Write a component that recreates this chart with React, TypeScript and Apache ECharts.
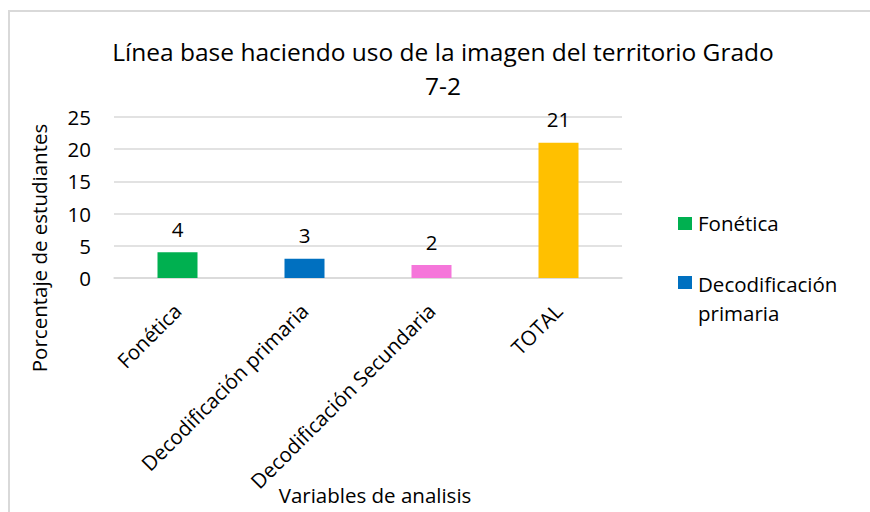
import React, { useEffect, useRef } from "react";
import * as echarts from "echarts";

const categories = ["Fonética", "Decodificación primaria", "Decodificación Secundaria", "TOTAL"];
const values = [4, 3, 2, 21];
const barColors = ["#00B050", "#0070C0", "#F576DA", "#FFC000"];
const yTicks = { min: 0, max: 25, interval: 5 };
const legendItems = ["Fonética", "Decodificación\nprimaria"];
const titleText = "Línea base haciendo uso de la imagen del territorio Grado\n7-2";
const yName = "Porcentaje de estudiantes";
const xName = "Variables de analisis";

const FONT = "Open Sans";
const FS = 20.5;

export default function App() {
  const ref = useRef<HTMLDivElement>(null);
  useEffect(() => {
    if (!ref.current) return;
    const chart = echarts.init(ref.current, undefined, { renderer: "svg" });
    chart.setOption({
      animation: false,
      backgroundColor: "#ffffff",
      textStyle: { fontFamily: FONT },
      title: {
        text: titleText,
        left: 438,
        top: 29,
        textAlign: "center",
        textStyle: { fontFamily: FONT, fontSize: 24.5, fontWeight: "normal", color: "#000", lineHeight: 34 },
      },
      grid: { left: 114, right: 248, top: 117, bottom: 234, containLabel: false },
      xAxis: {
        type: "category",
        data: categories,
        axisLine: { show: true, lineStyle: { color: "#D9D9D9", width: 1.5 } },
        axisTick: { show: false },
        axisLabel: { rotate: 45, margin: 29, fontFamily: FONT, fontSize: FS, color: "#000", interval: 0 },
      },
      yAxis: {
        type: "value",
        min: yTicks.min,
        max: yTicks.max,
        interval: yTicks.interval,
        axisLine: { show: false },
        axisTick: { show: false },
        splitLine: { lineStyle: { color: "#D9D9D9", width: 1.5 } },
        axisLabel: { margin: 23, fontFamily: FONT, fontSize: FS, color: "#000" },
      },
      series: [
        {
          type: "bar",
          barWidth: 40,
          data: values.map((v, i) => ({ value: v, itemStyle: { color: barColors[i] } })),
          label: { show: true, position: "top", distance: 13, fontFamily: FONT, fontSize: FS, color: "#000" },
        },
      ],
      graphic: [
        {
          type: "rect",
          shape: { x: 9, y: 11, width: 1000, height: 700 },
          style: { fill: "none", stroke: "#D9D9D9", lineWidth: 2 },
          silent: true,
        },
        {
          type: "text",
          x: 39,
          y: 248,
          rotation: Math.PI / 2,
          style: { text: yName, fontFamily: FONT, fontSize: FS, fill: "#000", align: "center", verticalAlign: "middle" },
        },
        {
          type: "text",
          x: 375,
          y: 495,
          style: { text: xName, fontFamily: FONT, fontSize: FS, lineHeight: 22, fill: "#000", align: "center", verticalAlign: "middle" },
        },
        {
          type: "rect",
          shape: { x: 678, y: 217, width: 14, height: 13 },
          style: { fill: barColors[0] },
        },
        {
          type: "text",
          x: 698,
          y: 223,
          style: { text: legendItems[0], fontFamily: FONT, fontSize: FS, fill: "#000", align: "left", verticalAlign: "middle" },
        },
        {
          type: "rect",
          shape: { x: 678, y: 276, width: 14, height: 13 },
          style: { fill: barColors[1] },
        },
        {
          type: "text",
          x: 698,
          y: 269,
          style: { text: legendItems[1], fontFamily: FONT, fontSize: FS, lineHeight: 29, fill: "#000", align: "left", verticalAlign: "top" },
        },
      ],
    });
    return () => chart.dispose();
  }, []);
  return <div ref={ref} style={{ position: "fixed", left: 0, top: 0, width: 870, height: 512 }} />;
}
